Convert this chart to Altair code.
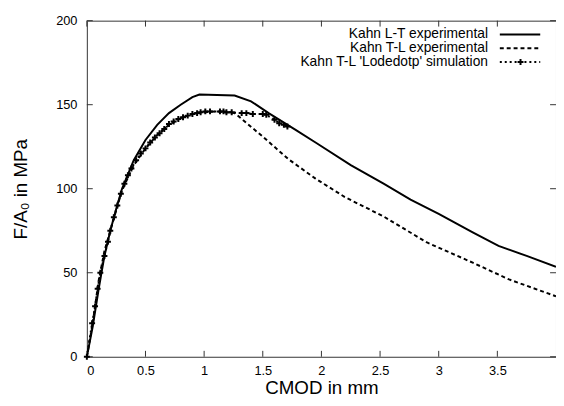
import altair as alt
import pandas as pd

# Kahn L-T experimental (solid)
lt_x = [0, 0.05, 0.1, 0.15, 0.2, 0.25, 0.3, 0.4, 0.5, 0.6, 0.7, 0.8, 0.9, 0.96, 1.26, 1.4, 1.55, 1.78, 1.95, 2.25, 2.53, 2.76, 3.0, 3.29, 3.51, 3.75, 4.0]
lt_y = [0, 18, 40, 60, 75, 88, 100, 117, 129, 138, 145, 150, 154.5, 156, 155.5, 152, 145, 135, 127.5, 114, 103, 93.5, 85, 74, 66, 60, 53.5]

# Kahn T-L experimental (dashed)
tl_x = [0, 0.05, 0.1, 0.15, 0.2, 0.3, 0.4, 0.5, 0.6, 0.7, 0.8, 0.9, 1.0, 1.1, 1.26, 1.5, 1.72, 1.95, 2.2, 2.53, 2.9, 3.29, 3.6, 4.0]
tl_y = [0, 20, 45, 63, 75, 99, 114, 124, 132, 138, 142, 144.5, 145.5, 146, 145, 131, 117.5, 106, 95, 83.5, 68, 56, 46, 36]

# Kahn T-L 'Lodedotp' simulation (dotted + markers)
sim_x = [0, 0.045, 0.07, 0.092, 0.115, 0.15, 0.18, 0.2, 0.23, 0.26, 0.29, 0.32, 0.35, 0.38, 0.42, 0.46,
         0.5, 0.54, 0.58, 0.62, 0.66, 0.7, 0.74, 0.78, 0.82, 0.86, 0.9, 0.94, 0.97, 1.01, 1.05, 1.135,
         1.165, 1.19, 1.235, 1.32, 1.36, 1.415, 1.5, 1.53, 1.6, 1.64, 1.68, 1.71]
sim_y = [0, 20, 30, 40.5, 50, 60, 68.5, 75, 83, 90, 97, 103, 108, 112, 117, 121,
         124, 127.5, 130.5, 133, 135.5, 138.5, 140, 141.5, 142.5, 143.5, 144.5, 145, 145.5, 146, 146, 146,
         146, 145.5, 145.5, 145, 145, 144.5, 144.5, 144, 141, 139, 138, 137]

x_ticks = [0, 0.5, 1, 1.5, 2, 2.5, 3, 3.5]
y_ticks = [0, 50, 100, 150, 200]
legend_labels = ["Kahn L-T experimental", "Kahn T-L experimental", "Kahn T-L 'Lodedotp' simulation"]

FONT = "Liberation Sans"
W, H = 476, 341
AX = "#333333"
PLUS = "M-1,0L1,0M0,-1L0,1"

lt = pd.DataFrame({"x": lt_x, "y": lt_y})
tl = pd.DataFrame({"x": tl_x, "y": tl_y})
sim = pd.DataFrame({"x": sim_x, "y": sim_y})
xt = pd.DataFrame({"x": x_ticks})
yt = pd.DataFrame({"y": y_ticks})
one = pd.DataFrame({"a": [0]})

xscale = alt.Scale(domain=[0, 4], nice=False, zero=False)
yscale = alt.Scale(domain=[0, 200], nice=False)
xaxis = alt.Axis(values=x_ticks, title="CMOD in mm", format="~g", ticks=False, domain=False, grid=False,
                 labelFont=FONT, labelFontSize=13, labelColor="black", labelPadding=8,
                 titleFont=FONT, titleFontSize=19, titleFontWeight="normal", titleColor="black",
                 titleX=W / 2, titleY=31, titleBaseline="middle")
yaxis = alt.Axis(values=y_ticks, title="F/A₀ in MPa", ticks=False, domain=False, grid=False,
                 labelFont=FONT, labelFontSize=13, labelColor="black", labelPadding=10,
                 titleFont=FONT, titleFontSize=19, titleFontWeight="normal", titleColor="black",
                 titleX=-67, titleY=H / 2, titleBaseline="middle", titleAngle=-90)
X = alt.X("x:Q", scale=xscale, axis=xaxis)
Y = alt.Y("y:Q", scale=yscale, axis=yaxis)

l_lt = alt.Chart(lt).mark_line(color="black", strokeWidth=2, clip=True).encode(x=X, y=Y)
l_tl = alt.Chart(tl).mark_line(color="black", strokeWidth=2, strokeDash=[4, 3], clip=True).encode(x=X, y=Y)
l_sim = alt.Chart(sim).mark_line(color="black", strokeWidth=2, strokeDash=[2, 3], clip=True).encode(x=X, y=Y)
p_sim = alt.Chart(sim).mark_point(shape=PLUS, color="black", filled=False, strokeWidth=2, size=36, opacity=1).encode(x=X, y=Y)

tk_b = alt.Chart(xt).mark_rule(color=AX).encode(x=X, y=alt.value(H), y2=alt.value(H - 6))
tk_t = alt.Chart(xt).mark_rule(color=AX).encode(x=X, y=alt.value(0), y2=alt.value(6))
tk_l = alt.Chart(yt).mark_rule(color=AX).encode(y=Y, x=alt.value(0), x2=alt.value(6))
tk_r = alt.Chart(yt).mark_rule(color=AX).encode(y=Y, x=alt.value(W - 6), x2=alt.value(W))

rows = [14, 28, 42]
leg = []
for lab, ry in zip(legend_labels, rows):
    leg.append(alt.Chart(one).mark_text(text=lab, align="right", baseline="middle", font=FONT, fontSize=14,
                                        color="black").encode(x=alt.value(407), y=alt.value(ry)))
leg.append(alt.Chart(one).mark_rule(color="black", strokeWidth=2).encode(x=alt.value(419), x2=alt.value(460), y=alt.value(rows[0])))
leg.append(alt.Chart(one).mark_rule(color="black", strokeWidth=2, strokeDash=[4, 3]).encode(x=alt.value(419), x2=alt.value(460), y=alt.value(rows[1])))
leg.append(alt.Chart(one).mark_rule(color="black", strokeWidth=2, strokeDash=[2, 3]).encode(x=alt.value(419), x2=alt.value(460), y=alt.value(rows[2])))
leg.append(alt.Chart(one).mark_point(shape=PLUS, color="black", filled=False, strokeWidth=2, size=36, opacity=1).encode(x=alt.value(440), y=alt.value(rows[2])))

chart = alt.layer(tk_b, tk_t, tk_l, tk_r, l_lt, l_tl, l_sim, p_sim, *leg).properties(
    width=W, height=H,
    padding={"left": 80, "top": 10, "right": 0, "bottom": 40},
    autosize=alt.AutoSizeParams(type="none"),
    background="white",
).configure_view(stroke=AX, strokeWidth=1)

chart.save("out.html", embed_options={"renderer": "svg", "actions": False})
